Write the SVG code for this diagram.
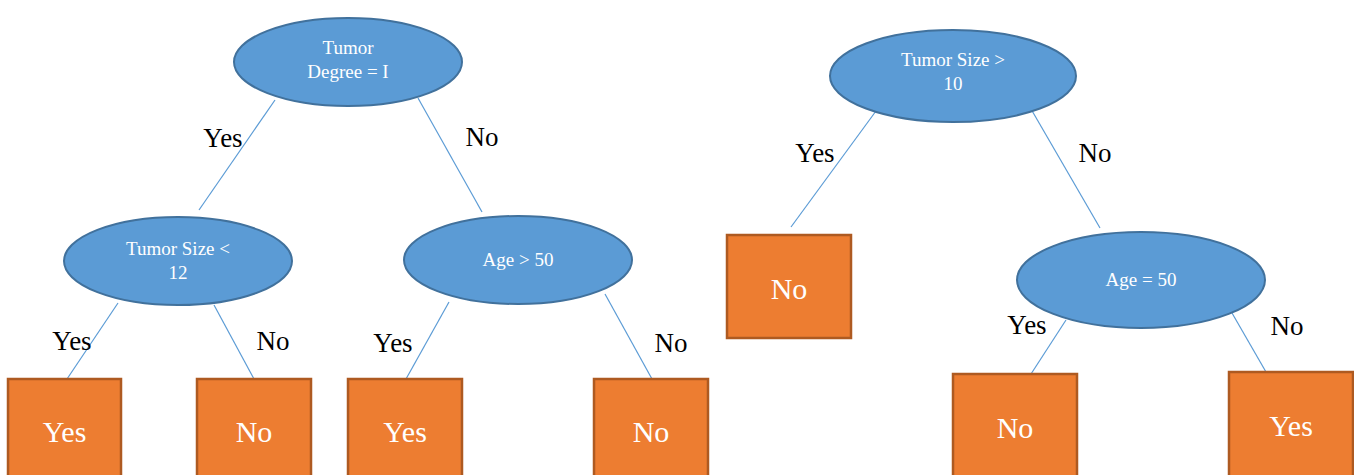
<svg xmlns="http://www.w3.org/2000/svg" width="1354" height="475" viewBox="0 0 1354 475" font-family="'Liberation Serif', 'Times New Roman', 'DejaVu Serif', serif">
<style>
.el{fill:#5B9BD5;stroke:#41719C;stroke-width:2}
.bx{fill:#ED7D31;stroke:#AE5A21;stroke-width:2.5}
text{font-family:'Liberation Serif','Times New Roman','DejaVu Serif',serif}
.et{font-size:19px;fill:#fff;text-anchor:middle}
.bt{font-size:30px;fill:#fff;text-anchor:middle}
.lb{font-size:27px;fill:#000;text-anchor:middle}
.cn line{stroke:#5B9BD5;stroke-width:1.2}
</style>
<rect width="1354" height="475" fill="#fff"/>
<g id="connectors" class="cn">
<line x1="275" y1="100" x2="199" y2="210"/>
<line x1="418" y1="98" x2="482" y2="212"/>
<line x1="118" y1="303" x2="67" y2="379"/>
<line x1="214" y1="305" x2="254" y2="379"/>
<line x1="449" y1="302" x2="406" y2="379"/>
<line x1="605" y1="294" x2="652" y2="379"/>
<line x1="876" y1="111" x2="791" y2="227"/>
<line x1="1031" y1="109" x2="1100" y2="228"/>
<line x1="1066" y1="320" x2="1031" y2="374"/>
<line x1="1232" y1="313" x2="1266" y2="372"/>
</g>
<g id="edge-labels">
<text class="lb" x="223" y="147">Yes</text>
<text class="lb" x="482" y="146">No</text>
<text class="lb" x="72" y="350">Yes</text>
<text class="lb" x="273" y="350">No</text>
<text class="lb" x="393" y="352">Yes</text>
<text class="lb" x="671" y="352">No</text>
<text class="lb" x="815" y="162">Yes</text>
<text class="lb" x="1095" y="162">No</text>
<text class="lb" x="1027" y="334">Yes</text>
<text class="lb" x="1287" y="335">No</text>
</g>
<g id="n-tumor-degree">
<ellipse class="el" cx="348" cy="62" rx="114" ry="44"/>
<text class="et" x="348" y="54">Tumor</text>
<text class="et" x="348" y="78">Degree = I</text>
</g>
<g id="n-tumor-size-12">
<ellipse class="el" cx="178" cy="261" rx="114" ry="44"/>
<text class="et" x="178" y="255">Tumor Size &lt;</text>
<text class="et" x="178" y="279">12</text>
</g>
<g id="n-age-gt-50">
<ellipse class="el" cx="518" cy="260" rx="114" ry="44"/>
<text class="et" x="518" y="266">Age &gt; 50</text>
</g>
<g id="n-leaf-1">
<rect class="bx" x="8" y="379" width="113" height="100"/>
<text class="bt" x="64.5" y="442">Yes</text>
</g>
<g id="n-leaf-2">
<rect class="bx" x="197" y="379" width="114" height="100"/>
<text class="bt" x="254" y="442">No</text>
</g>
<g id="n-leaf-3">
<rect class="bx" x="348" y="379" width="114" height="100"/>
<text class="bt" x="405" y="442">Yes</text>
</g>
<g id="n-leaf-4">
<rect class="bx" x="594" y="379" width="114" height="100"/>
<text class="bt" x="651" y="442">No</text>
</g>
<g id="n-tumor-size-10">
<ellipse class="el" cx="953" cy="76" rx="123" ry="46"/>
<text class="et" x="953" y="66">Tumor Size &gt;</text>
<text class="et" x="953" y="90">10</text>
</g>
<g id="n-leaf-5">
<rect class="bx" x="727" y="235" width="124" height="103"/>
<text class="bt" x="789" y="299">No</text>
</g>
<g id="n-age-eq-50">
<ellipse class="el" cx="1141" cy="280" rx="124" ry="48"/>
<text class="et" x="1141" y="286">Age = 50</text>
</g>
<g id="n-leaf-6">
<rect class="bx" x="953" y="374" width="124" height="105"/>
<text class="bt" x="1015" y="438">No</text>
</g>
<g id="n-leaf-7">
<rect class="bx" x="1229" y="372" width="124" height="107"/>
<text class="bt" x="1291" y="436">Yes</text>
</g>
</svg>
